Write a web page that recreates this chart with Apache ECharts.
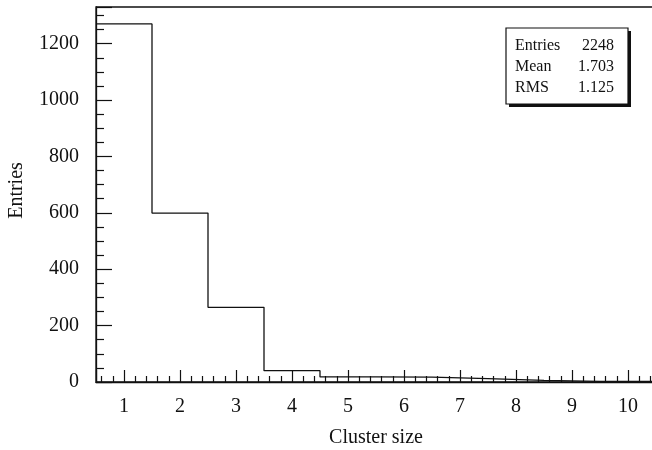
<!DOCTYPE html>
<html>
<head>
<meta charset="utf-8">
<script src="https://cdn.jsdelivr.net/npm/echarts@6/dist/echarts.min.js"></script>
<style>
  html, body { margin: 0; padding: 0; background: #fff; }
  #chart { width: 652px; height: 450px; }
</style>
</head>
<body>
<div id="chart"></div>
<script>
// bin centres and counts of the cluster size histogram
const binCenters = [1, 2, 3, 4, 5, 6, 7, 8, 9, 10];
const binCounts = [1270, 599, 265, 40, 18, 17, 12, 6, 2, 2];
const statsLabels = ['Entries', 'Mean', 'RMS'];
const statsValues = ['2248', '1.703', '1.125'];

const FONT = '"Liberation Serif", "DejaVu Serif", serif';
const INK = '#111';

// step outline: each bin gives its low and high edge at its height
function stepPoints() {
    const pts = [];
    binCenters.forEach(function (c, i) {
        pts.push([c - 0.5, binCounts[i]]);
        pts.push([c + 0.5, binCounts[i]]);
    });
    return pts;
}

const chart = echarts.init(document.getElementById('chart'), null, { renderer: 'canvas' });

const rowY = [46, 67, 88];
const statsGraphics = [{
    type: 'rect',
    shape: { x: 509, y: 31, width: 122, height: 76 },
    style: { fill: '#111' },
    silent: true
}, {
    type: 'rect',
    shape: { x: 506, y: 28, width: 122, height: 76 },
    style: { fill: '#fff', stroke: INK, lineWidth: 1.2 },
    silent: true
}];
statsLabels.forEach(function (lab, i) {
    statsGraphics.push({
        type: 'text', x: 515, y: rowY[i],
        style: { text: lab, font: '16px ' + FONT, fill: INK, textAlign: 'left', textVerticalAlign: 'middle' }
    });
    statsGraphics.push({
        type: 'text', x: 614, y: rowY[i],
        style: { text: statsValues[i], font: '16px ' + FONT, fill: INK, textAlign: 'right', textVerticalAlign: 'middle' }
    });
});

chart.setOption({
    animation: false,
    backgroundColor: '#fff',
    grid: {
        left: 96, right: -4, top: 7, bottom: 68,
        containLabel: false,
        outerBoundsMode: 'none',
        show: true, borderColor: INK, borderWidth: 1.3
    },
    xAxis: {
        type: 'value',
        min: 0.5, max: 10.5,
        splitNumber: 10,
        name: 'Cluster size',
        nameLocation: 'middle',
        nameGap: 46,
        nameTextStyle: { fontFamily: FONT, fontSize: 20, color: INK },
        axisLine: { show: true, lineStyle: { color: INK, width: 1.3 } },
        axisTick: { show: true, inside: true, length: 12, lineStyle: { color: INK, width: 1.2 } },
        minorTick: { show: true, splitNumber: 5, length: 6, lineStyle: { color: INK, width: 1.2 } },
        axisLabel: {
            fontFamily: FONT, fontSize: 20, color: INK, margin: 15,
            showMinLabel: false, showMaxLabel: false
        },
        splitLine: { show: false }
    },
    yAxis: {
        type: 'value',
        min: 0, max: 1330,
        interval: 200,
        name: 'Entries',
        nameLocation: 'middle',
        nameGap: 69,
        nameRotate: 90,
        nameTextStyle: { fontFamily: FONT, fontSize: 20, color: INK, padding: [0, 0, 0, 8] },
        axisLine: { show: true, lineStyle: { color: INK, width: 1.3 } },
        axisTick: { show: true, inside: true, length: 16, lineStyle: { color: INK, width: 1.2 } },
        minorTick: { show: true, splitNumber: 4, length: 8, lineStyle: { color: INK, width: 1.2 } },
        axisLabel: {
            fontFamily: FONT, fontSize: 20, color: INK, margin: 17, showMaxLabel: false,
            formatter: function (v) { return String(v); }
        },
        splitLine: { show: false }
    },
    series: [{
        type: 'line',
        data: stepPoints(),
        symbol: 'none',
        lineStyle: { color: INK, width: 1.3 },
        z: 3
    }],
    graphic: statsGraphics
});
</script>
</body>
</html>
